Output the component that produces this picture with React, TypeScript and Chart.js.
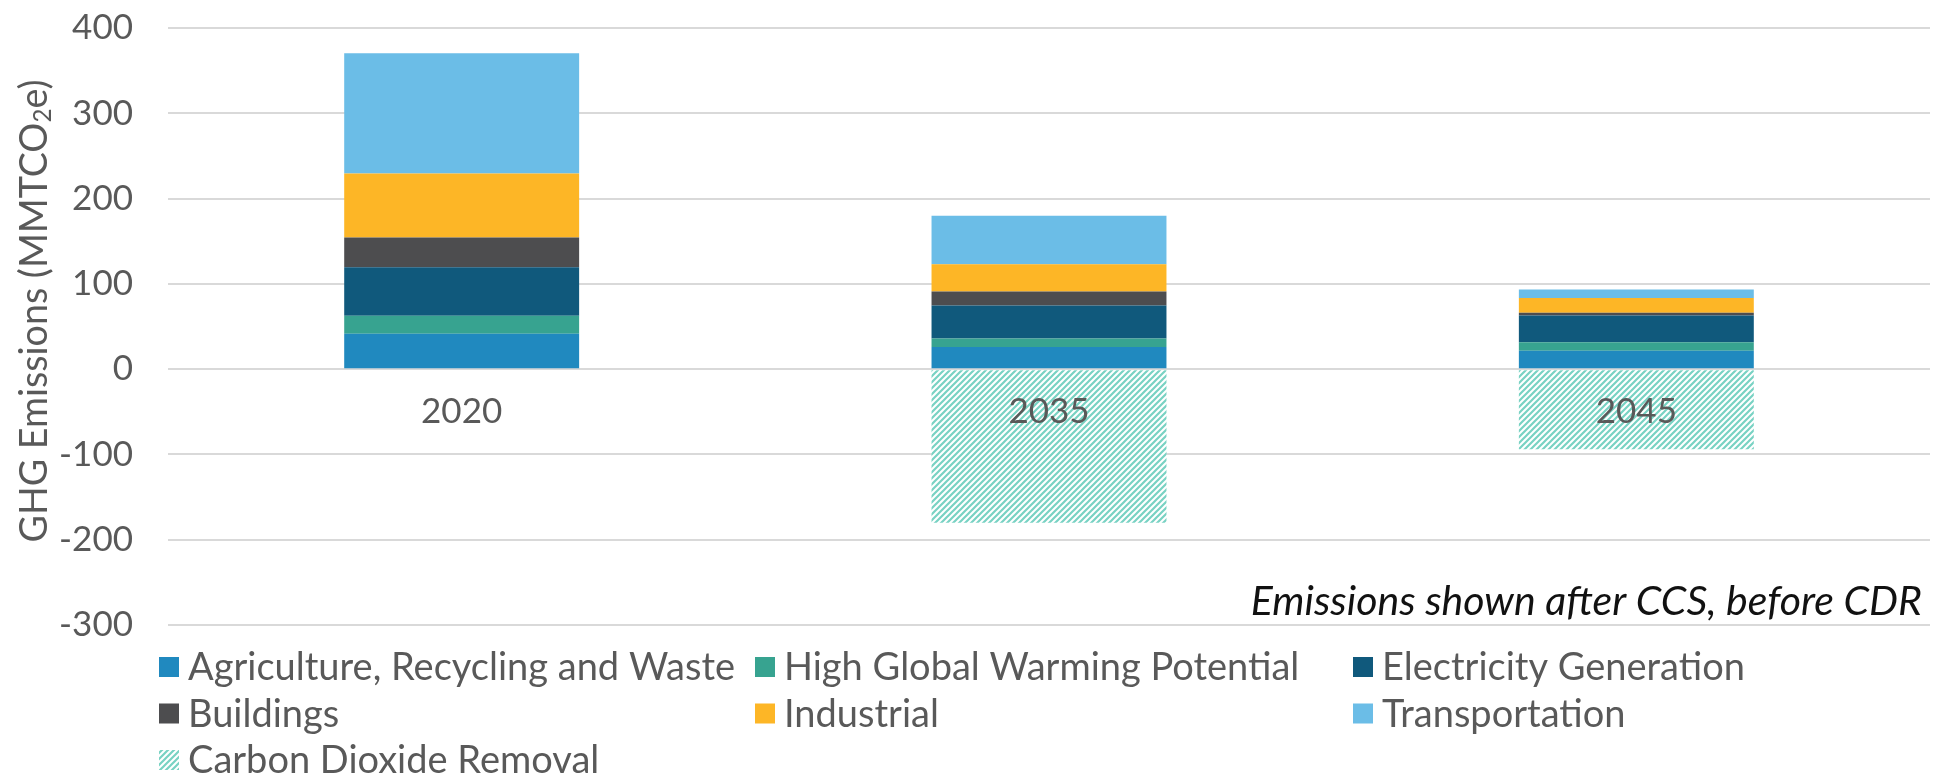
import React, { useEffect, useRef } from "react";
import { Chart, registerables } from "chart.js";

Chart.register(...registerables);

const categories = ["2020", "2035", "2045"];
const agriculture = [41.5, 26, 21.5];
const highGwp = [21, 10, 10];
const electricity = [57, 38.5, 31.5];
const buildings = [35, 16.5, 3];
const industrial = [75, 32, 17.5];
const transportation = [141, 57, 10];
const carbonRemoval = [null, -180, -94];
const yTickValues = [-300, -200, -100, 0, 100, 200, 300, 400];
const seriesNames = [
  "Agriculture, Recycling and Waste",
  "High Global Warming Potential",
  "Electricity Generation",
  "Buildings",
  "Industrial",
  "Transportation",
  "Carbon Dioxide Removal",
];
const seriesColors = ["#2089BF", "#37A390", "#10597C", "#4D4D4F", "#FDB626", "#6BBDE7", "#78D2C3"];
const noteText = "Emissions shown after CCS, before CDR";

const FONT = "Lato, 'Open Sans', sans-serif";
const TEXT = "#595959";

function makeHatch(color: string) {
  const s = 6;
  const c = document.createElement("canvas");
  c.width = s;
  c.height = s;
  const g = c.getContext("2d")!;
  g.fillStyle = "#ffffff";
  g.fillRect(0, 0, s, s);
  g.strokeStyle = color;
  g.lineWidth = 2.2;
  g.beginPath();
  g.moveTo(-1, s + 1);
  g.lineTo(s + 1, -1);
  g.moveTo(-1, 1);
  g.lineTo(1, -1);
  g.moveTo(s - 1, s + 1);
  g.lineTo(s + 1, s - 1);
  g.stroke();
  return g.createPattern(c, "repeat")!;
}

const overlayPlugin = {
  id: "overlay",
  afterDatasetsDraw(chart: any) {
    const { ctx, scales } = chart;
    const xs = scales.x;
    const ys = scales.y;
    ctx.save();
    ctx.fillStyle = TEXT;
    ctx.font = `35px ${FONT}`;
    ctx.textAlign = "center";
    ctx.textBaseline = "top";
    const y0 = ys.getPixelForValue(0);
    chart.data.labels.forEach((lab: string, i: number) => {
      ctx.fillText(lab, xs.getPixelForValue(i), y0 + 25);
    });
    ctx.restore();
  },
  afterDraw(chart: any) {
    const { ctx, chartArea } = chart;
    ctx.save();
    const parts = ["GHG Emissions (MMTCO", "2", "e)"];
    const big = `39px ${FONT}`;
    const small = `25px ${FONT}`;
    ctx.font = big;
    const w0 = ctx.measureText(parts[0]).width;
    const w2 = ctx.measureText(parts[2]).width;
    ctx.font = small;
    const w1 = ctx.measureText(parts[1]).width;
    const total = w0 + w1 + w2;
    const k = 463 / total;
    ctx.translate(34, 311);
    ctx.rotate(-Math.PI / 2);
    ctx.scale(k, 1);
    ctx.fillStyle = TEXT;
    ctx.textBaseline = "middle";
    ctx.textAlign = "left";
    let x = -total / 2;
    ctx.font = big;
    ctx.fillText(parts[0], x, 0);
    x += w0;
    ctx.font = small;
    ctx.fillText(parts[1], x, 9);
    x += w1;
    ctx.font = big;
    ctx.fillText(parts[2], x, 0);
    ctx.restore();

    ctx.save();
    ctx.font = `italic 41px ${FONT}`;
    ctx.fillStyle = "#111111";
    ctx.textAlign = "right";
    ctx.textBaseline = "alphabetic";
    ctx.fillText(noteText, chartArea.right - 8, 615);
    ctx.restore();

    ctx.save();
    const cols = [159, 755, 1353];
    const rows = [667, 713.5, 760];
    ctx.font = `38px ${FONT}`;
    ctx.textBaseline = "middle";
    ctx.textAlign = "left";
    chart.data.datasets.forEach((ds: any, i: number) => {
      const cx = cols[i % 3];
      const cy = rows[Math.floor(i / 3)];
      ctx.fillStyle = ds.backgroundColor;
      ctx.fillRect(cx, cy - 10, 20, 20);
      ctx.fillStyle = TEXT;
      ctx.fillText(ds.label, cx + 29, cy + 1);
    });
    ctx.restore();
  },
};

export default function App() {
  const ref = useRef<HTMLCanvasElement>(null);
  useEffect(() => {
    document.body.style.margin = "0";
    const hatch = makeHatch(seriesColors[6]);
    const values = [agriculture, highGwp, electricity, buildings, industrial, transportation, carbonRemoval];
    const chart = new Chart(ref.current!, {
      type: "bar",
      data: {
        labels: categories,
        datasets: values.map((v, i) => ({
          label: seriesNames[i],
          data: v,
          backgroundColor: i === 6 ? hatch : seriesColors[i],
          borderWidth: 0,
          barPercentage: 0.4,
          categoryPercentage: 1,
        })) as any,
      },
      options: {
        animation: false,
        responsive: false,
        maintainAspectRatio: false,
        layout: { padding: { top: 28, right: 6, bottom: 154, left: 0 } },
        plugins: { legend: { display: false }, tooltip: { enabled: false } },
        scales: {
          x: { display: false, stacked: true },
          y: {
            stacked: true,
            min: -300,
            max: 400,
            afterFit: (s: any) => {
              s.width = 168;
            },
            afterBuildTicks: (s: any) => {
              s.ticks = yTickValues.map((v) => ({ value: v }));
            },
            ticks: { padding: 4, color: TEXT, font: { family: FONT, size: 35 } },
            grid: { color: "#D9D9D9", lineWidth: 2, drawTicks: true, tickLength: 31, tickColor: "rgba(0,0,0,0)" },
            border: { display: false },
          },
        },
      },
      plugins: [overlayPlugin],
    });
    return () => chart.destroy();
  }, []);
  return (
    <div style={{ width: 1936, height: 779 }}>
      <canvas ref={ref} width={1936} height={779} />
    </div>
  );
}
